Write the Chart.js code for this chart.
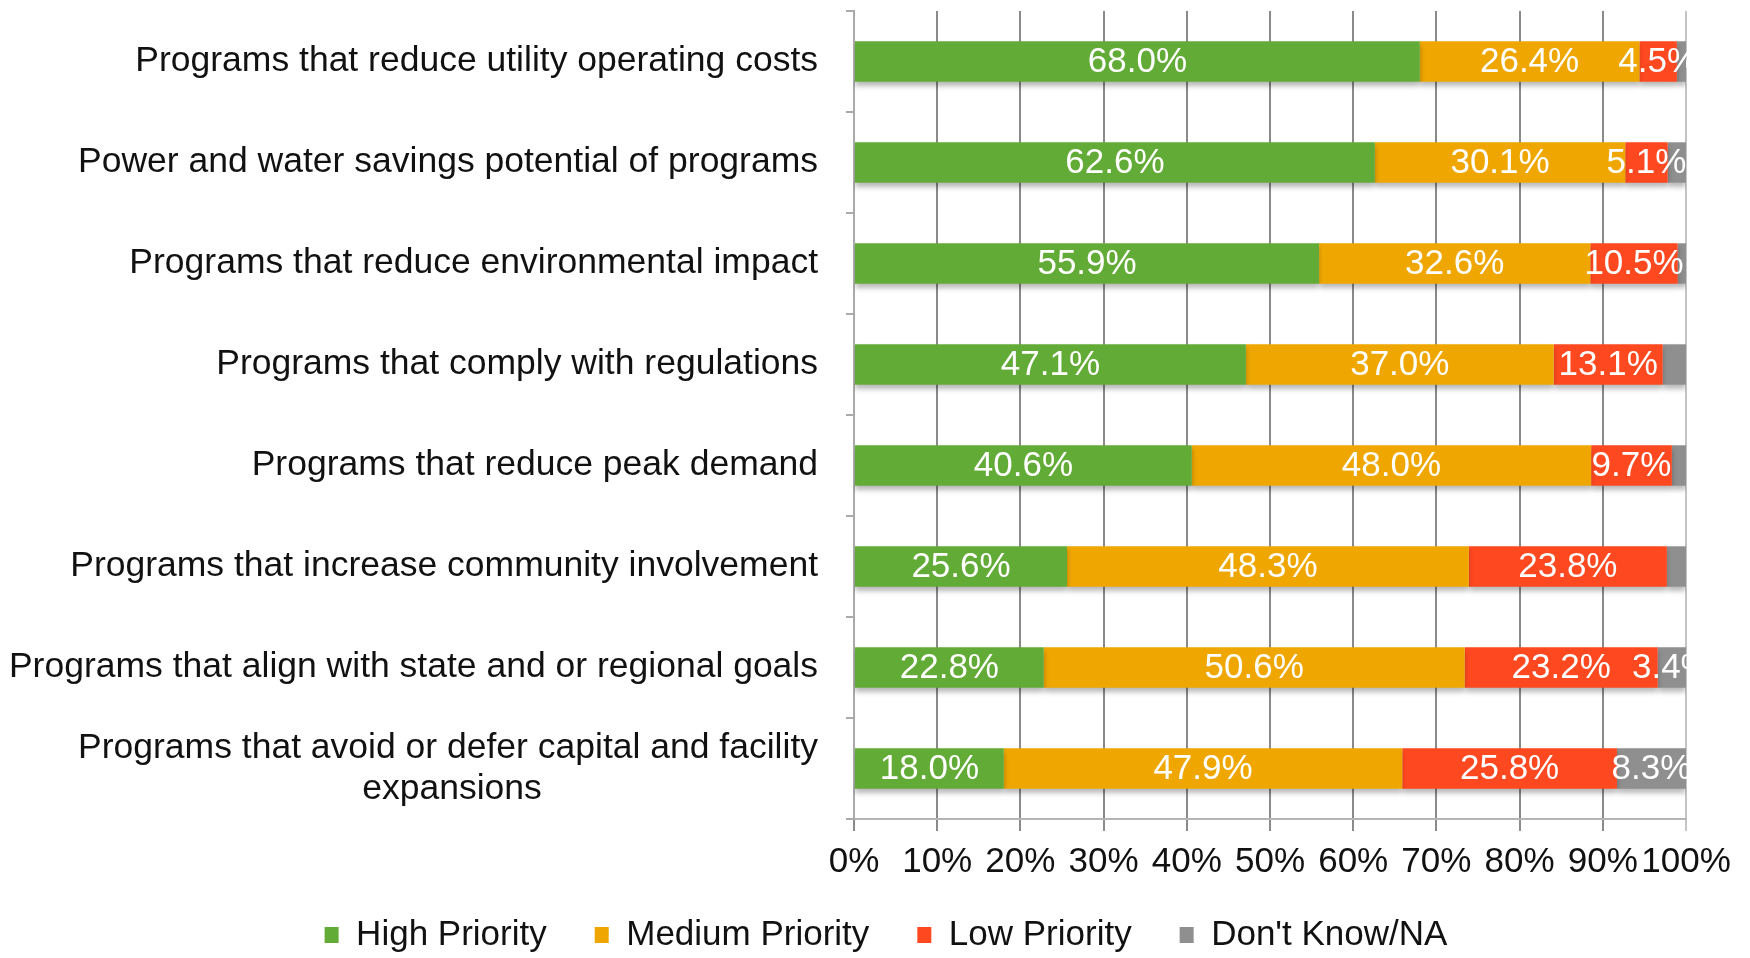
<!DOCTYPE html>
<html><head><meta charset="utf-8">
<script src="https://cdn.jsdelivr.net/npm/chart.js@4/dist/chart.umd.min.js"></script>
<style>html,body{margin:0;padding:0;background:#fff;}</style>
</head><body>
<canvas id="c" width="1750" height="958"></canvas>
<script>
const categories = [
  'Programs that reduce utility operating costs',
  'Power and water savings potential of programs',
  'Programs that reduce environmental impact',
  'Programs that comply with regulations',
  'Programs that reduce peak demand',
  'Programs that increase community involvement',
  'Programs that align with state and or regional goals',
  ['Programs that avoid or defer capital and facility', 'expansions']
];
const highPriority   = [68.0, 62.6, 55.9, 47.1, 40.6, 25.6, 22.8, 18.0];
const mediumPriority = [26.4, 30.1, 32.6, 37.0, 48.0, 48.3, 50.6, 47.9];
const lowPriority    = [4.5, 5.1, 10.5, 13.1, 9.7, 23.8, 23.2, 25.8];
const dontKnow       = [1.1, 2.2, 1.0, 2.8, 1.7, 2.3, 3.4, 8.3];
const seriesNames = ['High Priority', 'Medium Priority', 'Low Priority', "Don't Know/NA"];
const xTickLabels = ['0%','10%','20%','30%','40%','50%','60%','70%','80%','90%','100%'];

const FONT = '"Liberation Sans", Arial, Helvetica, sans-serif';
const colors = ['#62AB36', '#EFA700', '#FE4820', '#8F8F8F'];
const CAT_SIZE = 35.5;
const LEGEND_PAD = 48;
const LEGEND_HEIGHT = 65;
const LEGEND_CENTER_Y = 935;
const LEGEND_SHIFT_X = 43;

// center the second line of multi-line labels under the first (right-aligned ticks)
const mctx = document.createElement('canvas').getContext('2d');
mctx.font = CAT_SIZE + 'px ' + FONT;
const labels = categories.map(c => {
  if (!Array.isArray(c)) return c;
  const w0 = mctx.measureText(c[0]).width;
  let l = c[1];
  const target = mctx.measureText(c[1]).width + (w0 - mctx.measureText(c[1]).width) / 2;
  while (mctx.measureText(l + ' ').width <= target + 2) l += ' ';
  return [c[0], l];
});

const barPlugin = {
  id: 'barExtras',
  beforeLayout(chart) {
    const lg = chart.legend;
    if (lg && !lg._patched) {
      const orig = lg.fit.bind(lg);
      lg.fit = function () { orig(); this.height = LEGEND_HEIGHT; };
      lg._patched = true;
    }
  },
  afterLayout(chart) {
    const lg = chart.legend;
    if (lg) {
      lg.top = LEGEND_CENTER_Y - 17.5 - LEGEND_PAD;
      lg.bottom = chart.height;
      lg.height = lg.bottom - lg.top;
      lg.left += LEGEND_SHIFT_X; lg.right += LEGEND_SHIFT_X;
    }
  },
  beforeDatasetsDraw(chart) {
    const ctx = chart.ctx;
    ctx.save();
    ctx.shadowColor = 'rgba(0,0,0,0.28)';
    ctx.shadowBlur = 5;
    ctx.shadowOffsetY = 4;
  },
  afterDatasetsDraw(chart) {
    const ctx = chart.ctx;
    ctx.restore();
    const a = chart.chartArea;
    ctx.save();
    ctx.beginPath();
    ctx.rect(a.left, a.top, a.right - a.left + 1, a.bottom - a.top);
    ctx.clip();
    ctx.font = '35px ' + FONT;
    ctx.fillStyle = '#ffffff';
    ctx.textAlign = 'center';
    ctx.textBaseline = 'middle';
    chart.data.datasets.forEach((ds, di) => {
      const meta = chart.getDatasetMeta(di);
      meta.data.forEach((bar, i) => {
        const v = ds.data[i];
        if (di === 3 && v < 3) return;
        const x = (bar.x + bar.base) / 2;
        ctx.fillText(v.toFixed(1) + '%', x, bar.y + 1);
      });
    });
    ctx.restore();
  }
};

new Chart(document.getElementById('c'), {
  type: 'bar',
  data: {
    labels: labels,
    datasets: [
      { label: seriesNames[0], data: highPriority, backgroundColor: colors[0] },
      { label: seriesNames[1], data: mediumPriority, backgroundColor: colors[1] },
      { label: seriesNames[2], data: lowPriority, backgroundColor: colors[2] },
      { label: seriesNames[3], data: dontKnow, backgroundColor: colors[3] }
    ]
  },
  options: {
    indexAxis: 'y',
    responsive: false,
    animation: false,
    datasets: { bar: { barPercentage: 0.4, categoryPercentage: 1.0, borderWidth: 0 } },
    layout: { padding: { left: 0, right: 64, top: 11, bottom: 0 } },
    scales: {
      x: {
        stacked: true,
        min: 0, max: 100,
        afterFit: s => { s.paddingLeft = 0; s.paddingRight = 0; },
        ticks: {
          stepSize: 10,
          padding: 10,
          autoSkip: false,
          maxRotation: 0, minRotation: 0,
          color: '#111',
          font: { family: FONT, size: 35 },
          callback: (v, i) => xTickLabels[i]
        },
        grid: {
          color: ctx => (ctx.tick && ctx.tick.value === 100) ? '#c4c4c4' : '#8a8a8a',
          lineWidth: 2,
          tickLength: 12
        },
        border: { color: '#b5b5b5', width: 2 }
      },
      y: {
        stacked: true,
        afterFit: s => { s.width = 854; s.paddingTop = 0; s.paddingBottom = 0; },
        ticks: {
          autoSkip: false,
          padding: 28,
          color: '#111',
          font: { family: FONT, size: CAT_SIZE, lineHeight: 1.17 }
        },
        grid: { drawOnChartArea: false, tickLength: 8, color: '#aaaaaa', lineWidth: 2 },
        border: { color: '#aaaaaa', width: 2 }
      }
    },
    plugins: {
      legend: {
        position: 'bottom',
        labels: {
          boxWidth: 14, boxHeight: 16,
          padding: LEGEND_PAD,
          color: '#111',
          font: { family: FONT, size: 35 }
        }
      },
      tooltip: { enabled: false }
    }
  },
  plugins: [barPlugin]
});
</script>
</body></html>
